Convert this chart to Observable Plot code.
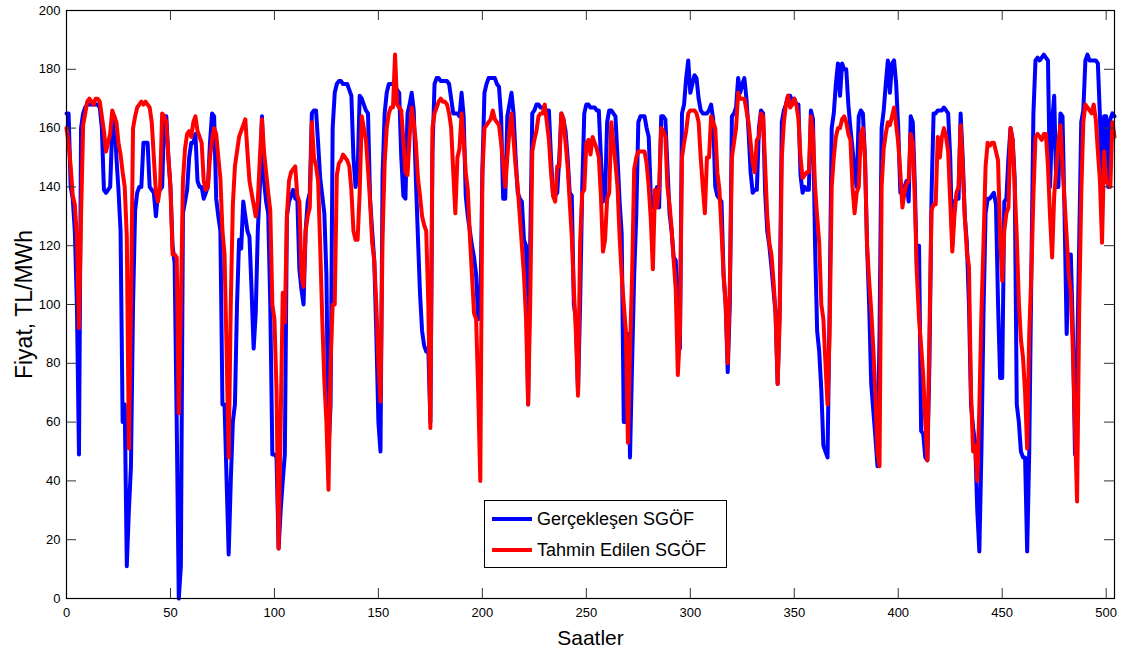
<!DOCTYPE html>
<html>
<head>
<meta charset="utf-8">
<script src="https://cdn.jsdelivr.net/npm/d3@7"></script>
<script src="https://cdn.jsdelivr.net/npm/@observablehq/plot@0.6"></script>
<style>
  html, body { margin: 0; padding: 0; background: #fff; }
  #wrap { position: relative; width: 1135px; height: 655px; font-family: "Liberation Sans", Arial, sans-serif; }
  #legend { position: absolute; left: 484px; top: 500px; width: 241px; height: 66px; border: 1px solid #000; background: #fff; box-sizing: content-box; }
  .item { position: absolute; left: 0; height: 24px; display: flex; align-items: center; }
  .swatch { width: 40px; height: 4px; margin-left: 7px; margin-right: 5px; }
  .lab { font-size: 18px; color: #000; white-space: nowrap; }
</style>
</head>
<body>
<div id="wrap"></div>
<script>
// Hour index 0..504
const actualPrice = [
165,165,140,136,125,100,49,160,165,167,
168,168,168,168,168,168,167,160,139,138,
139,140,160,164,150,139,125,60,66,11,
30,45,100,132,138,140,140,155,155,155,
140,139,138,130,138,139,140,164,164,150,
140,120,114,60,0,11,131,135,139,150,
155,155,158,142,140,140,136,138,140,155,
165,164,136,130,125,66,66,40,15,40,
60,66,100,122,119,135,130,125,123,105,
85,97,125,140,164,142,135,131,100,49,
49,48,17,30,40,49,130,135,137,139,
136,136,112,105,100,125,135,138,165,166,
166,155,143,137,131,110,50,66,160,172,
175,176,176,175,175,175,173,171,150,140,
145,171,170,168,166,165,136,125,115,90,
60,50,144,165,172,175,175,175,174,173,
172,150,137,136,165,168,172,166,143,123,
104,91,86,84,85,60,152,175,177,177,
176,176,176,176,175,170,165,165,165,164,
172,164,137,130,125,120,116,110,95,96,
146,172,175,177,177,177,177,175,174,164,
136,136,164,168,172,165,150,138,136,135,
122,120,66,120,165,166,168,168,167,167,
166,166,166,150,137,137,138,150,165,163,
159,150,138,137,100,95,70,100,139,165,
168,168,167,167,167,166,166,150,135,137,
162,166,166,165,164,150,135,124,60,60,
90,48,80,110,130,162,164,164,164,160,
157,137,133,136,140,133,164,164,163,147,
131,125,116,115,97,85,165,168,177,183,
172,175,178,177,170,166,165,165,165,166,
168,163,140,137,136,135,110,100,77,100,
164,165,167,177,172,175,177,170,159,145,
138,139,139,160,166,165,138,125,120,113,
105,97,73,100,162,166,168,171,171,169,
170,168,168,144,138,140,139,139,166,163,
120,91,84,71,52,50,48,100,160,165,
175,182,171,182,180,180,168,160,153,145,
140,164,166,165,150,120,100,73,64,55,
45,90,160,166,175,183,172,182,183,175,
160,138,139,140,142,135,164,162,140,110,
120,57,56,48,47,80,137,165,165,166,
166,166,167,166,165,150,120,135,136,136,
165,150,130,121,100,66,58,53,30,16,
50,97,131,136,136,137,138,134,100,75,
75,135,136,150,160,156,143,66,60,50,
48,48,16,50,110,165,183,184,183,184,
185,184,183,140,162,171,140,140,165,164,
130,90,117,117,90,49,80,120,162,166,
183,185,183,183,183,183,182,164,140,164,
164,140,163,165,164
];
const forecastPrice = [
160,155,147,137,134,123,92,130,161,165,
169,170,169,168,170,170,169,164,159,152,
155,158,166,164,162,155,151,145,140,123,
51,100,160,164,167,168,169,168,169,168,
167,162,150,138,135,140,165,164,162,150,
140,117,117,116,63,100,142,153,158,159,
157,162,164,159,157,155,142,139,140,150,
156,160,158,150,143,125,117,84,48,100,
134,147,152,157,159,161,163,152,142,138,
134,130,135,150,163,152,145,138,132,100,
95,71,17,60,104,94,130,142,145,146,
147,137,135,110,106,125,130,133,162,150,
147,142,120,95,74,60,37,80,100,100,
144,148,149,151,150,149,147,139,125,122,
122,138,164,160,156,146,135,121,115,100,
80,67,123,148,160,165,167,167,185,168,
167,166,156,145,144,157,167,162,155,143,
137,130,127,125,100,58,160,165,167,169,
170,169,169,168,165,160,145,131,150,153,
165,156,145,139,123,110,97,95,70,40,
144,160,161,162,163,166,163,162,161,155,
148,140,150,159,165,156,147,140,130,120,
110,95,66,100,152,156,159,164,165,165,
168,162,156,145,137,135,147,147,165,163,
155,147,135,123,105,90,69,121,138,139,
155,156,151,157,155,153,150,137,118,122,
136,138,162,155,148,140,123,110,100,91,
53,84,110,146,150,152,152,152,152,148,
140,129,112,139,133,140,160,159,157,140,
134,126,115,105,76,90,150,155,159,165,
166,166,166,165,162,150,140,131,150,150,
164,162,160,145,139,125,110,100,80,107,
150,155,160,172,170,170,170,166,162,155,
148,145,156,157,165,164,147,130,121,117,
108,97,73,95,150,162,168,171,167,168,
170,168,163,150,143,144,145,145,164,158,
140,130,121,100,95,80,66,90,140,150,
157,160,160,163,164,162,158,156,140,131,
138,140,158,160,150,120,108,98,85,70,
50,45,140,153,158,162,161,164,167,161,
155,145,133,138,141,142,158,155,135,110,
95,86,76,60,47,90,132,134,134,157,
150,157,160,157,152,135,118,130,138,140,
161,147,130,118,113,70,50,52,40,65,
97,121,147,155,154,155,155,152,149,123,
108,125,131,133,160,156,140,123,101,88,
82,70,51,90,110,137,157,158,157,156,
158,158,147,130,116,137,146,155,161,147,
135,123,110,104,84,58,33,97,137,162,
168,167,166,165,168,163,152,142,121,152,
142,141,140,162,157
];
const seriesNames = ["Gerçekleşen SGÖF", "Tahmin Edilen SGÖF"];
const seriesColors = ["#0000ff", "#ff0000"];
const xTicks = [0, 50, 100, 150, 200, 250, 300, 350, 400, 450, 500];
const yTicks = [0, 20, 40, 60, 80, 100, 120, 140, 160, 180, 200];
const xLabel = "Saatler";
const yLabel = "Fiyat, TL/MWh";

const actualData = actualPrice.map((v, i) => ({hour: i, price: v}));
const forecastData = forecastPrice.map((v, i) => ({hour: i, price: v}));

const W = 1135, H = 655;
const mL = 66, mR = 21, mT = 10, mB = 57;
const tickLen = 10;
const tickStroke = "#333";

const font = "Liberation Sans, Arial, sans-serif";
const chart = Plot.plot({
  width: W,
  height: H,
  marginLeft: mL,
  marginRight: mR,
  marginTop: mT,
  marginBottom: mB,
  style: {fontFamily: font, fontSize: "13px", color: "#000", background: "#fff"},
  x: {domain: [0, 504], ticks: xTicks},
  y: {domain: [0, 200], ticks: yTicks},
  marks: [
    Plot.line(actualData, {x: "hour", y: "price", stroke: seriesColors[0], strokeWidth: 4, strokeLinejoin: "round"}),
    Plot.line(forecastData, {x: "hour", y: "price", stroke: seriesColors[1], strokeWidth: 4, strokeLinejoin: "round"}),
    // inward tick marks on all four sides
    Plot.tickX(xTicks, {x: d => d, insetTop: H - mT - mB - tickLen, stroke: tickStroke, strokeWidth: 1}),
    Plot.tickX(xTicks, {x: d => d, insetBottom: H - mT - mB - tickLen, stroke: tickStroke, strokeWidth: 1}),
    Plot.tickY(yTicks, {y: d => d, insetRight: W - mL - mR - tickLen, stroke: tickStroke, strokeWidth: 1}),
    Plot.tickY(yTicks, {y: d => d, insetLeft: W - mL - mR - tickLen, stroke: tickStroke, strokeWidth: 1}),
    Plot.axisX(xTicks, {anchor: "bottom", tickSize: 0, tickPadding: 9, label: null, fontSize: 13}),
    Plot.axisY(yTicks, {anchor: "left", tickSize: 0, tickPadding: 6, label: null, fontSize: 13}),
    Plot.frame({stroke: "#000", strokeWidth: 1.2}),
    Plot.text([xLabel], {frameAnchor: "bottom", textAnchor: "middle", dy: 46, fontSize: 21, fill: "#000"}),
    Plot.text([yLabel], {frameAnchor: "left", textAnchor: "middle", dx: -42, rotate: -90, fontSize: 23, fill: "#000"})
  ]
});

const wrap = document.getElementById("wrap");
wrap.appendChild(chart);

const legend = document.createElement("div");
legend.id = "legend";
seriesNames.forEach((name, i) => {
  const item = document.createElement("div");
  item.className = "item";
  item.style.top = (i === 0 ? 6 : 37) + "px";
  const sw = document.createElement("div");
  sw.className = "swatch";
  sw.style.background = seriesColors[i];
  const lab = document.createElement("span");
  lab.className = "lab";
  lab.textContent = name;
  item.appendChild(sw);
  item.appendChild(lab);
  legend.appendChild(item);
});
wrap.appendChild(legend);
</script>
</body>
</html>
